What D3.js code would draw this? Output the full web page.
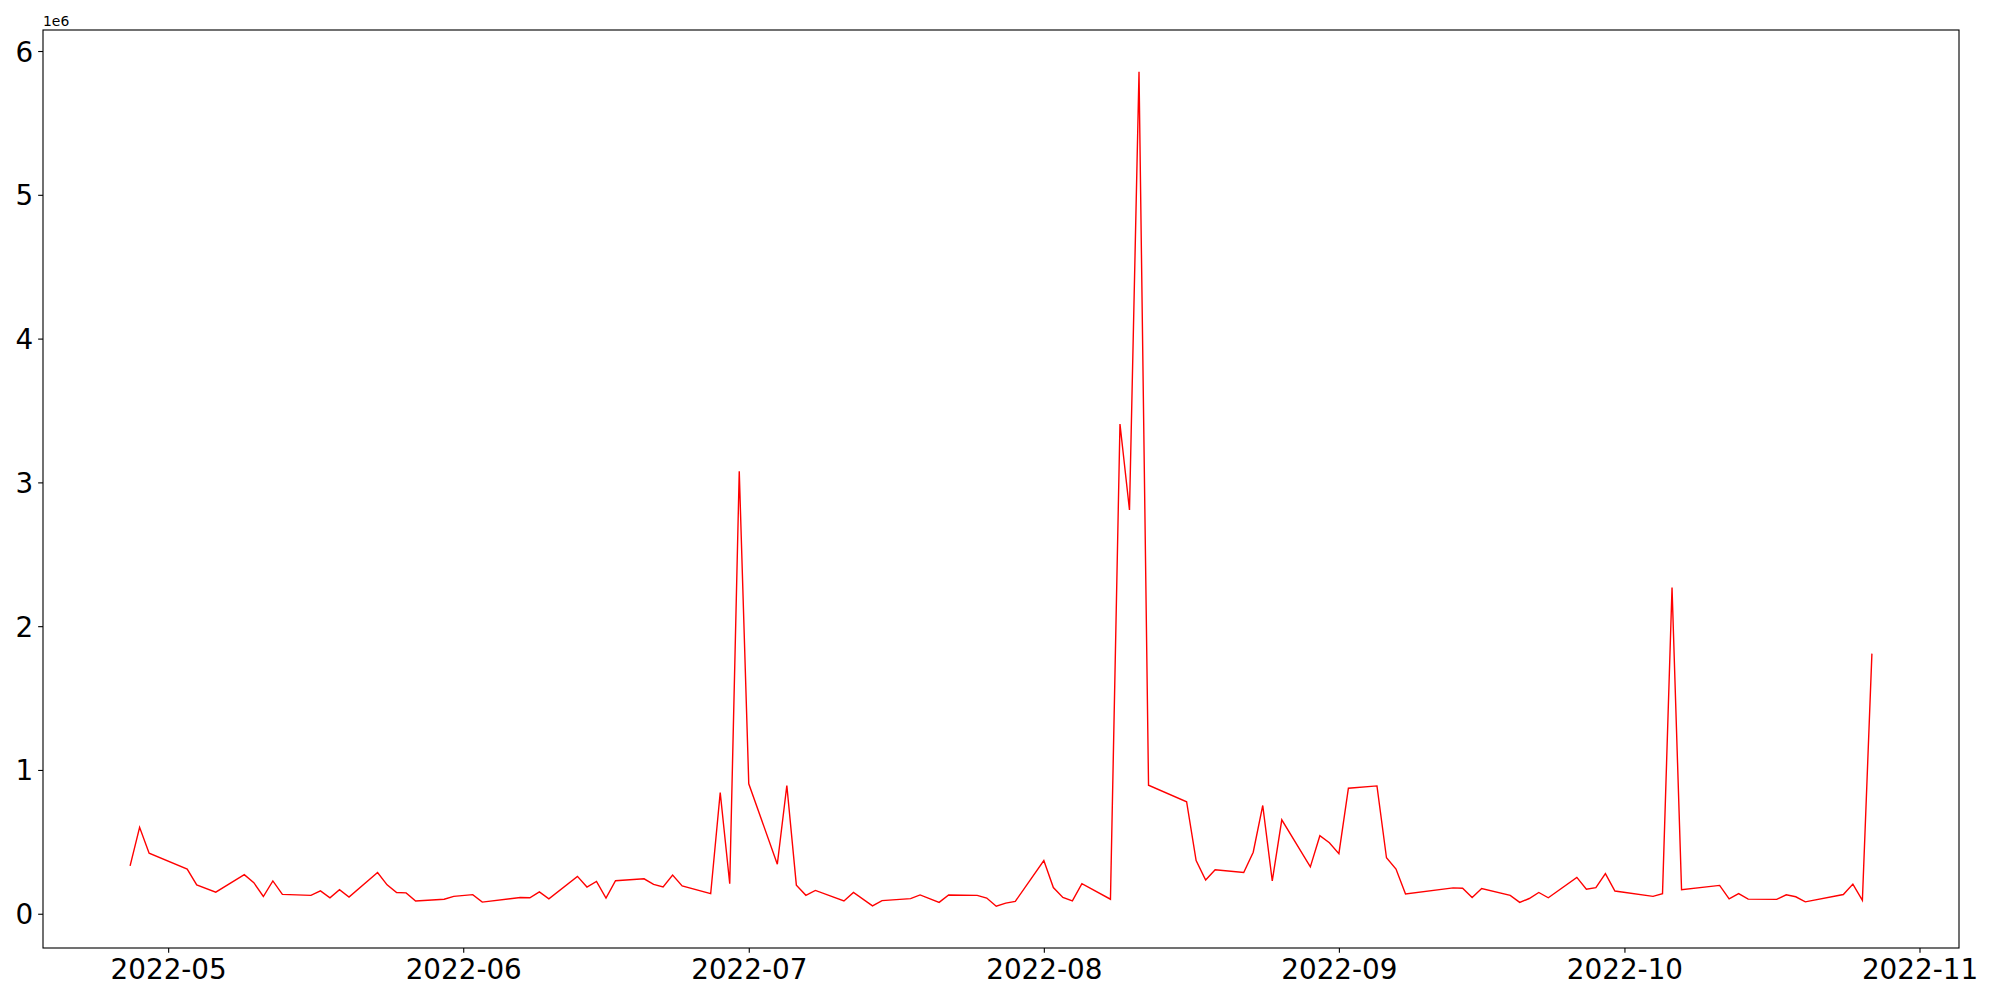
<!DOCTYPE html>
<html>
<head>
<meta charset="utf-8">
<script src="https://cdn.jsdelivr.net/npm/d3@7"></script>
<style>
  body { margin: 0; background: #fff; }
</style>
</head>
<body>
<div id="chart"></div>
<script>
// daily values
const dates = [
  "2022-04-27","2022-04-28","2022-04-29","2022-05-03","2022-05-04","2022-05-06","2022-05-09","2022-05-10",
  "2022-05-11","2022-05-12","2022-05-13","2022-05-16","2022-05-17","2022-05-18","2022-05-19","2022-05-20",
  "2022-05-23","2022-05-24","2022-05-25","2022-05-26","2022-05-27","2022-05-30","2022-05-31","2022-06-02",
  "2022-06-03","2022-06-07","2022-06-08","2022-06-09","2022-06-10","2022-06-13","2022-06-14","2022-06-15",
  "2022-06-16","2022-06-17","2022-06-20","2022-06-21","2022-06-22","2022-06-23","2022-06-24","2022-06-27",
  "2022-06-28","2022-06-29","2022-06-30","2022-07-01","2022-07-04","2022-07-05","2022-07-06","2022-07-07",
  "2022-07-08","2022-07-11","2022-07-12","2022-07-14","2022-07-15","2022-07-18","2022-07-19","2022-07-21",
  "2022-07-22","2022-07-25","2022-07-26","2022-07-27","2022-07-28","2022-07-29","2022-08-01","2022-08-02",
  "2022-08-03","2022-08-04","2022-08-05","2022-08-08","2022-08-09","2022-08-10","2022-08-11","2022-08-12",
  "2022-08-16","2022-08-17","2022-08-18","2022-08-19","2022-08-22","2022-08-23","2022-08-24","2022-08-25",
  "2022-08-26","2022-08-29","2022-08-30","2022-08-31","2022-09-01","2022-09-02","2022-09-05","2022-09-06",
  "2022-09-07","2022-09-08","2022-09-13","2022-09-14","2022-09-15","2022-09-16","2022-09-19","2022-09-20",
  "2022-09-21","2022-09-22","2022-09-23","2022-09-26","2022-09-27","2022-09-28","2022-09-29","2022-09-30",
  "2022-10-04","2022-10-05","2022-10-06","2022-10-07","2022-10-11","2022-10-12","2022-10-13","2022-10-14",
  "2022-10-17","2022-10-18","2022-10-19","2022-10-20","2022-10-24","2022-10-25","2022-10-26","2022-10-27"
];

const values = [
  333000, 601000, 421000, 311000, 201000, 150000, 272000, 216000,
  120000, 228000, 135000, 128000, 159000, 111000, 167000, 116000,
  287000, 201000, 148000, 145000, 89000, 101000, 121000, 133000,
  81000, 113000, 111000, 152000, 104000, 260000, 186000, 225000,
  109000, 230000, 243000, 204000, 186000, 269000, 194000, 140000,
  843000, 209000, 3077000, 904000, 345000, 892000, 199000, 128000,
  162000, 89000, 148000, 55000, 91000, 105000, 131000, 79000,
  130000, 128000, 109000, 52000, 74000, 86000, 370000, 182000,
  113000, 89000, 209000, 101000, 3406000, 2808000, 5856000, 894000,
  779000, 370000, 235000, 306000, 287000, 428000, 753000, 228000,
  653000, 326000, 543000, 494000, 418000, 873000, 889000, 389000,
  311000, 138000, 180000, 177000, 113000, 175000, 128000, 79000,
  106000, 148000, 111000, 253000, 170000, 182000, 279000, 158000,
  121000, 140000, 2269000, 167000, 197000, 103000, 140000, 102000,
  100000, 132000, 118000, 83000, 134000, 206000, 93000, 1809000
];

const yTicks = [0, 1, 2, 3, 4, 5, 6];
const offsetLabel = "1e6";

const width = 2000;
const height = 1000;
const margin = { left: 43, right: 41, top: 30, bottom: 52 };
const fontSize = 27.8;

const parse = d3.utcParse("%Y-%m-%d");
const data = dates.map((d, i) => ({ date: parse(d), value: values[i] }));

// matplotlib style 5% padding on both axes
const xExt = d3.extent(data, d => d.date);
const xPad = (xExt[1] - xExt[0]) * 0.05;
const yExt = d3.extent(data, d => d.value);
const yPad = (yExt[1] - yExt[0]) * 0.05;

const x = d3.scaleUtc()
  .domain([new Date(+xExt[0] - xPad), new Date(+xExt[1] + xPad)])
  .range([margin.left, width - margin.right]);

const y = d3.scaleLinear()
  .domain([yExt[0] - yPad, yExt[1] + yPad])
  .range([height - margin.bottom, margin.top]);

const svg = d3.select("#chart")
  .append("svg")
  .attr("width", width)
  .attr("height", height)
  .style("font-family", "'DejaVu Sans', sans-serif");

svg.append("rect")
  .attr("width", width)
  .attr("height", height)
  .attr("fill", "#fff");

// line
const line = d3.line()
  .x(d => x(d.date))
  .y(d => y(d.value));

svg.append("path")
  .datum(data)
  .attr("fill", "none")
  .attr("stroke", "#ff0000")
  .attr("stroke-width", 1.4)
  .attr("stroke-linejoin", "miter")
  .attr("d", line);

// axes
const xAxis = d3.axisBottom(x)
  .ticks(d3.utcMonth.every(1))
  .tickFormat(d3.utcFormat("%Y-%m"))
  .tickSize(4.86)
  .tickSizeOuter(0)
  .tickPadding(6.7);

const yAxis = d3.axisLeft(y)
  .tickValues(yTicks.map(t => t * 1e6))
  .tickFormat(d => d / 1e6)
  .tickSize(4.86)
  .tickSizeOuter(0)
  .tickPadding(4.86);

const gx = svg.append("g")
  .attr("transform", `translate(0, ${height - margin.bottom})`)
  .call(xAxis);

const gy = svg.append("g")
  .attr("transform", `translate(${margin.left}, 0)`)
  .call(yAxis);

[gx, gy].forEach(g => {
  g.select(".domain").remove();
  g.selectAll(".tick line").attr("stroke", "#000").attr("stroke-width", 1.11);
  g.selectAll(".tick text")
    .attr("fill", "#000")
    .style("font-size", fontSize + "px")
    .style("font-family", "'DejaVu Sans', sans-serif");
});
gy.selectAll(".tick text").attr("dy", "0.36em");

// frame
svg.append("rect")
  .attr("x", margin.left)
  .attr("y", margin.top)
  .attr("width", width - margin.left - margin.right)
  .attr("height", height - margin.top - margin.bottom)
  .attr("fill", "none")
  .attr("stroke", "#000")
  .attr("stroke-width", 1.11);

// scientific offset text
svg.append("text")
  .attr("x", margin.left)
  .attr("y", margin.top - 4)
  .style("font-size", "13.9px")
  .text(offsetLabel);
</script>
</body>
</html>
